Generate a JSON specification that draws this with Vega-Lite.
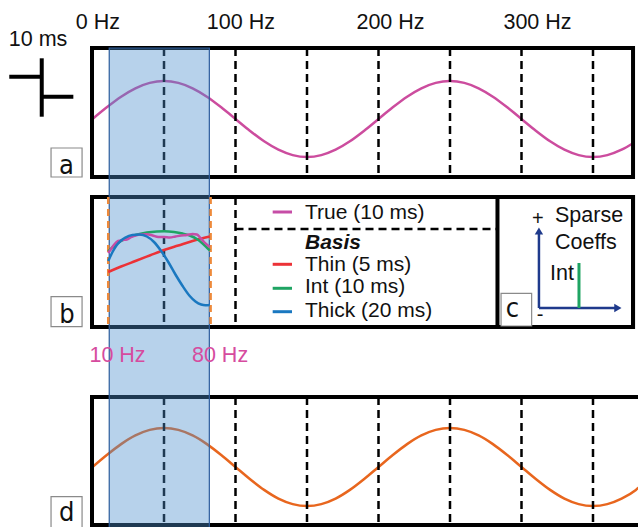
{
  "$schema": "https://vega.github.io/schema/vega-lite/v6.json",
  "width": 638,
  "height": 527,
  "padding": 0,
  "autosize": {"type": "none"},
  "background": "white",
  "config": {"view": {"stroke": null}, "text": {"font": "Liberation Sans"}},
  "datasets": {
    "waves": [
      {"series": "a", "x": 0, "y": 119}, {"series": "a", "x": 10, "y": 107.3}, {"series": "a", "x": 20, "y": 96.7}, {"series": "a", "x": 30, "y": 88.3}, {"series": "a", "x": 40, "y": 82.9}, {"series": "a", "x": 50, "y": 81}, {"series": "a", "x": 60, "y": 82.9}, {"series": "a", "x": 70, "y": 88.3}, {"series": "a", "x": 80, "y": 96.7}, {"series": "a", "x": 90, "y": 107.3}, {"series": "a", "x": 100, "y": 119}, {"series": "a", "x": 110, "y": 130.7}, {"series": "a", "x": 120, "y": 141.3}, {"series": "a", "x": 130, "y": 149.7}, {"series": "a", "x": 140, "y": 155.1}, {"series": "a", "x": 150, "y": 157}, {"series": "a", "x": 160, "y": 155.1}, {"series": "a", "x": 170, "y": 149.7}, {"series": "a", "x": 180, "y": 141.3}, {"series": "a", "x": 190, "y": 130.7}, {"series": "a", "x": 200, "y": 119}, {"series": "a", "x": 210, "y": 107.3}, {"series": "a", "x": 220, "y": 96.7}, {"series": "a", "x": 230, "y": 88.3}, {"series": "a", "x": 240, "y": 82.9}, {"series": "a", "x": 250, "y": 81}, {"series": "a", "x": 260, "y": 82.9}, {"series": "a", "x": 270, "y": 88.3}, {"series": "a", "x": 280, "y": 96.7}, {"series": "a", "x": 290, "y": 107.3}, {"series": "a", "x": 300, "y": 119}, {"series": "a", "x": 310, "y": 130.7}, {"series": "a", "x": 320, "y": 141.3}, {"series": "a", "x": 330, "y": 149.7}, {"series": "a", "x": 340, "y": 155.1}, {"series": "a", "x": 350, "y": 157}, {"series": "a", "x": 360, "y": 155.1}, {"series": "a", "x": 370, "y": 149.7}, {"series": "a", "x": 378, "y": 143.2},
      {"series": "d", "x": 0, "y": 467}, {"series": "d", "x": 10, "y": 455}, {"series": "d", "x": 20, "y": 444.1}, {"series": "d", "x": 30, "y": 435.4}, {"series": "d", "x": 40, "y": 429.9}, {"series": "d", "x": 50, "y": 428}, {"series": "d", "x": 60, "y": 429.9}, {"series": "d", "x": 70, "y": 435.4}, {"series": "d", "x": 80, "y": 444.1}, {"series": "d", "x": 90, "y": 455}, {"series": "d", "x": 100, "y": 467}, {"series": "d", "x": 110, "y": 479}, {"series": "d", "x": 120, "y": 489.9}, {"series": "d", "x": 130, "y": 498.6}, {"series": "d", "x": 140, "y": 504.1}, {"series": "d", "x": 150, "y": 506}, {"series": "d", "x": 160, "y": 504.1}, {"series": "d", "x": 170, "y": 498.6}, {"series": "d", "x": 180, "y": 489.9}, {"series": "d", "x": 190, "y": 479}, {"series": "d", "x": 200, "y": 467}, {"series": "d", "x": 210, "y": 455}, {"series": "d", "x": 220, "y": 444.1}, {"series": "d", "x": 230, "y": 435.4}, {"series": "d", "x": 240, "y": 429.9}, {"series": "d", "x": 250, "y": 428}, {"series": "d", "x": 260, "y": 429.9}, {"series": "d", "x": 270, "y": 435.4}, {"series": "d", "x": 280, "y": 444.1}, {"series": "d", "x": 290, "y": 455}, {"series": "d", "x": 300, "y": 467}, {"series": "d", "x": 310, "y": 479}, {"series": "d", "x": 320, "y": 489.9}, {"series": "d", "x": 330, "y": 498.6}, {"series": "d", "x": 340, "y": 504.1}, {"series": "d", "x": 350, "y": 506}, {"series": "d", "x": 360, "y": 504.1}, {"series": "d", "x": 370, "y": 498.6}, {"series": "d", "x": 380, "y": 489.9}, {"series": "d", "x": 384, "y": 485}
    ],
    "basis": [
      {"series": "Thin", "x": 11, "y": 272}, {"series": "Thin", "x": 20, "y": 266.5}, {"series": "Thin", "x": 30, "y": 261}, {"series": "Thin", "x": 40, "y": 255.5}, {"series": "Thin", "x": 50, "y": 250}, {"series": "Thin", "x": 60, "y": 245.5}, {"series": "Thin", "x": 70, "y": 241}, {"series": "Thin", "x": 82, "y": 236.5},
      {"series": "Int", "x": 11, "y": 251.5}, {"series": "Int", "x": 15, "y": 246}, {"series": "Int", "x": 20, "y": 241}, {"series": "Int", "x": 25, "y": 237.5}, {"series": "Int", "x": 30, "y": 235}, {"series": "Int", "x": 38, "y": 232.5}, {"series": "Int", "x": 45, "y": 231.5}, {"series": "Int", "x": 50, "y": 231.3}, {"series": "Int", "x": 57, "y": 232}, {"series": "Int", "x": 63, "y": 233.5}, {"series": "Int", "x": 68, "y": 235.5}, {"series": "Int", "x": 73, "y": 239}, {"series": "Int", "x": 77, "y": 243.5}, {"series": "Int", "x": 82, "y": 250.5},
      {"series": "True", "x": 11, "y": 253}, {"series": "True", "x": 13, "y": 249}, {"series": "True", "x": 15.5, "y": 244}, {"series": "True", "x": 18, "y": 241}, {"series": "True", "x": 21, "y": 240}, {"series": "True", "x": 24, "y": 239.5}, {"series": "True", "x": 27, "y": 237}, {"series": "True", "x": 30, "y": 235.5}, {"series": "True", "x": 34, "y": 234.5}, {"series": "True", "x": 38, "y": 234.3}, {"series": "True", "x": 42, "y": 235.5}, {"series": "True", "x": 46, "y": 237}, {"series": "True", "x": 50, "y": 237}, {"series": "True", "x": 54, "y": 237.5}, {"series": "True", "x": 58, "y": 236.5}, {"series": "True", "x": 62, "y": 235.5}, {"series": "True", "x": 66, "y": 235}, {"series": "True", "x": 70, "y": 234}, {"series": "True", "x": 73, "y": 234.5}, {"series": "True", "x": 75.5, "y": 238}, {"series": "True", "x": 78, "y": 242}, {"series": "True", "x": 82, "y": 247},
      {"series": "Thick", "x": 11, "y": 261}, {"series": "Thick", "x": 14, "y": 252}, {"series": "Thick", "x": 17, "y": 245}, {"series": "Thick", "x": 20, "y": 240.5}, {"series": "Thick", "x": 23, "y": 237.5}, {"series": "Thick", "x": 28, "y": 235}, {"series": "Thick", "x": 33, "y": 234.5}, {"series": "Thick", "x": 38, "y": 236.5}, {"series": "Thick", "x": 43, "y": 242}, {"series": "Thick", "x": 48, "y": 251}, {"series": "Thick", "x": 53, "y": 262}, {"series": "Thick", "x": 58, "y": 274.5}, {"series": "Thick", "x": 63, "y": 286}, {"series": "Thick", "x": 68, "y": 296}, {"series": "Thick", "x": 72, "y": 301.5}, {"series": "Thick", "x": 76, "y": 304.5}, {"series": "Thick", "x": 79, "y": 305.2}, {"series": "Thick", "x": 82, "y": 305}
    ],
    "vlines": [
      {"x": 50, "y": 48, "y2": 177}, {"x": 100, "y": 48, "y2": 177}, {"x": 150, "y": 48, "y2": 177}, {"x": 200, "y": 48, "y2": 177}, {"x": 250, "y": 48, "y2": 177}, {"x": 300, "y": 48, "y2": 177}, {"x": 350, "y": 48, "y2": 177},
      {"x": 50, "y": 197, "y2": 327}, {"x": 100, "y": 197, "y2": 327},
      {"x": 50, "y": 397, "y2": 525}, {"x": 100, "y": 397, "y2": 525}, {"x": 150, "y": 397, "y2": 525}, {"x": 200, "y": 397, "y2": 525}, {"x": 250, "y": 397, "y2": 525}, {"x": 300, "y": 397, "y2": 525}, {"x": 350, "y": 397, "y2": 525}
    ],
    "hlines": [{"x": 100, "x2": 283.2, "y": 229}],
    "edges": [{"x": 11, "y": 197, "y2": 327}, {"x": 82.6, "y": 197, "y2": 327}],
    "frames": [
      {"panel": "a", "x": -0.35, "x2": 378, "y": 48, "y2": 177},
      {"panel": "b", "x": -0.35, "x2": 378, "y": 197, "y2": 327},
      {"panel": "c", "x": 283.2, "x2": 378, "y": 197, "y2": 327},
      {"panel": "d", "x": -0.35, "x2": 390, "y": 397, "y2": 525}
    ],
    "band": [{"x": 11.7, "x2": 81.7, "y": 48, "y2": 540}],
    "legendLines": [
      {"series": "True", "x": 126, "x2": 139.5, "y": 212},
      {"series": "Thin", "x": 126, "x2": 139.5, "y": 264.3},
      {"series": "Int", "x": 126, "x2": 139.5, "y": 288.3},
      {"series": "Thick", "x": 126, "x2": 139.5, "y": 311.7}
    ],
    "legendText": [
      {"label": "True (10 ms)", "x": 148.6, "y": 213.3},
      {"label": "Thin (5 ms)", "x": 148.6, "y": 264.6},
      {"label": "Int (10 ms)", "x": 148.6, "y": 287},
      {"label": "Thick (20 ms)", "x": 148.6, "y": 310.8}
    ],
    "basisTitle": [{"label": "Basis", "x": 148.6, "y": 242.6}],
    "topLabels": [
      {"label": "0 Hz", "x": 3.8, "y": 22.5},
      {"label": "100 Hz", "x": 103.8, "y": 22.5},
      {"label": "200 Hz", "x": 208.4, "y": 22.5},
      {"label": "300 Hz", "x": 311.2, "y": 22.5},
      {"label": "10 ms", "x": -38.1, "y": 39.5}
    ],
    "bandLabels": [
      {"label": "10 Hz", "x": 17.5, "y": 355.8},
      {"label": "80 Hz", "x": 89.2, "y": 355.8}
    ],
    "cText": [
      {"label": "Sparse", "x": 323.4, "y": 215.8},
      {"label": "Coeffs", "x": 323.4, "y": 242.5},
      {"label": "Int", "x": 319.9, "y": 273.5}
    ],
    "cSigns": [
      {"label": "+", "x": 311.5, "y": 218.5},
      {"label": "-", "x": 313.0, "y": 315}
    ],
    "scaleBar": [
      {"x": -35.5, "x2": -35.5, "y": 58.3, "y2": 116.7},
      {"x": -58.2, "x2": -35.5, "y": 76.7, "y2": 76.7},
      {"x": -35.5, "x2": -13.4, "y": 96.7, "y2": 96.7}
    ],
    "cAxes": [
      {"x": 312.2, "x2": 312.2, "y": 231, "y2": 308},
      {"x": 312.2, "x2": 367.4, "y": 308, "y2": 308}
    ],
    "cArrowUp": [{"x": 312.2, "y": 231}],
    "cArrowRight": [{"x": 367.4, "y": 308}],
    "cBar": [{"x": 340.2, "y": 263, "y2": 308}],
    "letterBoxes": [
      {"panel": "a", "x": -29, "x2": -7.3, "y": 148, "y2": 177},
      {"panel": "b", "x": -29, "x2": -7.3, "y": 296.7, "y2": 326.7},
      {"panel": "c", "x": 285.7, "x2": 307.1, "y": 293.3, "y2": 326},
      {"panel": "d", "x": -29, "x2": -7.3, "y": 496.7, "y2": 535}
    ],
    "letters": [
      {"label": "a", "x": -18.3, "y": 173.5},
      {"label": "b", "x": -17.9, "y": 323},
      {"label": "c", "x": 293.6, "y": 316.7},
      {"label": "d", "x": -18.1, "y": 520.5}
    ]
  },
  "layer": [
    {
      "data": {"name": "waves"},
      "mark": {"type": "line", "strokeWidth": 2.5, "interpolate": "monotone"},
      "encoding": {
        "x": {"field": "x", "type": "quantitative", "scale": {"domain": [-64.69, 381.47], "nice": false, "zero": false}, "axis": null},
        "y": {"field": "y", "type": "quantitative", "scale": {"domain": [0, 527], "reverse": true, "nice": false, "zero": false}, "axis": null},
        "color": {"field": "series", "type": "nominal", "scale": {"domain": ["a", "d", "True", "Thin", "Int", "Thick"], "range": ["#CC4C9E", "#E8661E", "#C64DA6", "#EC3237", "#1FA463", "#1A78C0"]}, "legend": null}
      }
    },
    {
      "data": {"name": "vlines"},
      "mark": {"type": "rule", "color": "black", "strokeWidth": 2.5, "strokeDash": [8, 5]},
      "encoding": {
        "x": {"field": "x", "type": "quantitative", "scale": {"domain": [-64.69, 381.47], "nice": false, "zero": false}, "axis": null},
        "y": {"field": "y", "type": "quantitative", "scale": {"domain": [0, 527], "reverse": true, "nice": false, "zero": false}, "axis": null},
        "y2": {"field": "y2"}
      }
    },
    {
      "data": {"name": "hlines"},
      "mark": {"type": "rule", "color": "black", "strokeWidth": 2.5, "strokeDash": [8, 5]},
      "encoding": {
        "x": {"field": "x", "type": "quantitative", "scale": {"domain": [-64.69, 381.47], "nice": false, "zero": false}, "axis": null},
        "x2": {"field": "x2"},
        "y": {"field": "y", "type": "quantitative", "scale": {"domain": [0, 527], "reverse": true, "nice": false, "zero": false}, "axis": null}
      }
    },
    {
      "data": {"name": "frames"},
      "mark": {"type": "rect", "filled": false, "color": "black", "strokeWidth": 4},
      "encoding": {
        "x": {"field": "x", "type": "quantitative", "scale": {"domain": [-64.69, 381.47], "nice": false, "zero": false}, "axis": null},
        "x2": {"field": "x2"},
        "y": {"field": "y", "type": "quantitative", "scale": {"domain": [0, 527], "reverse": true, "nice": false, "zero": false}, "axis": null},
        "y2": {"field": "y2"}
      }
    },
    {
      "data": {"name": "band"},
      "mark": {"type": "rect", "fill": "#4B8ECD", "fillOpacity": 0.4, "stroke": "#2C5C9C", "strokeWidth": 1.2},
      "encoding": {
        "x": {"field": "x", "type": "quantitative", "scale": {"domain": [-64.69, 381.47], "nice": false, "zero": false}, "axis": null},
        "x2": {"field": "x2"},
        "y": {"field": "y", "type": "quantitative", "scale": {"domain": [0, 527], "reverse": true, "nice": false, "zero": false}, "axis": null},
        "y2": {"field": "y2"}
      }
    },
    {
      "data": {"name": "edges"},
      "mark": {"type": "rule", "color": "#EE8A3A", "strokeWidth": 2.5, "strokeDash": [7, 5]},
      "encoding": {
        "x": {"field": "x", "type": "quantitative", "scale": {"domain": [-64.69, 381.47], "nice": false, "zero": false}, "axis": null},
        "y": {"field": "y", "type": "quantitative", "scale": {"domain": [0, 527], "reverse": true, "nice": false, "zero": false}, "axis": null},
        "y2": {"field": "y2"}
      }
    },
    {
      "data": {"name": "basis"},
      "mark": {"type": "line", "strokeWidth": 2.5, "interpolate": "monotone"},
      "encoding": {
        "x": {"field": "x", "type": "quantitative", "scale": {"domain": [-64.69, 381.47], "nice": false, "zero": false}, "axis": null},
        "y": {"field": "y", "type": "quantitative", "scale": {"domain": [0, 527], "reverse": true, "nice": false, "zero": false}, "axis": null},
        "color": {"field": "series", "type": "nominal", "scale": {"domain": ["a", "d", "True", "Thin", "Int", "Thick"], "range": ["#CC4C9E", "#E8661E", "#C64DA6", "#EC3237", "#1FA463", "#1A78C0"]}, "legend": null}
      }
    },
    {
      "data": {"name": "legendLines"},
      "mark": {"type": "rule", "strokeWidth": 3},
      "encoding": {
        "x": {"field": "x", "type": "quantitative", "scale": {"domain": [-64.69, 381.47], "nice": false, "zero": false}, "axis": null},
        "x2": {"field": "x2"},
        "y": {"field": "y", "type": "quantitative", "scale": {"domain": [0, 527], "reverse": true, "nice": false, "zero": false}, "axis": null},
        "color": {"field": "series", "type": "nominal", "scale": {"domain": ["a", "d", "True", "Thin", "Int", "Thick"], "range": ["#CC4C9E", "#E8661E", "#C64DA6", "#EC3237", "#1FA463", "#1A78C0"]}, "legend": null}
      }
    },
    {
      "data": {"name": "legendText"},
      "mark": {"type": "text", "align": "left", "baseline": "middle", "fontSize": 21, "color": "#111"},
      "encoding": {
        "x": {"field": "x", "type": "quantitative", "scale": {"domain": [-64.69, 381.47], "nice": false, "zero": false}, "axis": null},
        "y": {"field": "y", "type": "quantitative", "scale": {"domain": [0, 527], "reverse": true, "nice": false, "zero": false}, "axis": null},
        "text": {"field": "label"}
      }
    },
    {
      "data": {"name": "basisTitle"},
      "mark": {"type": "text", "align": "left", "baseline": "middle", "fontSize": 21, "fontWeight": "bold", "fontStyle": "italic", "color": "#111"},
      "encoding": {
        "x": {"field": "x", "type": "quantitative", "scale": {"domain": [-64.69, 381.47], "nice": false, "zero": false}, "axis": null},
        "y": {"field": "y", "type": "quantitative", "scale": {"domain": [0, 527], "reverse": true, "nice": false, "zero": false}, "axis": null},
        "text": {"field": "label"}
      }
    },
    {
      "data": {"name": "topLabels"},
      "mark": {"type": "text", "align": "center", "baseline": "middle", "fontSize": 21.5, "color": "#111"},
      "encoding": {
        "x": {"field": "x", "type": "quantitative", "scale": {"domain": [-64.69, 381.47], "nice": false, "zero": false}, "axis": null},
        "y": {"field": "y", "type": "quantitative", "scale": {"domain": [0, 527], "reverse": true, "nice": false, "zero": false}, "axis": null},
        "text": {"field": "label"}
      }
    },
    {
      "data": {"name": "bandLabels"},
      "mark": {"type": "text", "align": "center", "baseline": "middle", "fontSize": 21.5, "color": "#D64B9E"},
      "encoding": {
        "x": {"field": "x", "type": "quantitative", "scale": {"domain": [-64.69, 381.47], "nice": false, "zero": false}, "axis": null},
        "y": {"field": "y", "type": "quantitative", "scale": {"domain": [0, 527], "reverse": true, "nice": false, "zero": false}, "axis": null},
        "text": {"field": "label"}
      }
    },
    {
      "data": {"name": "cText"},
      "mark": {"type": "text", "align": "left", "baseline": "middle", "fontSize": 21.5, "color": "#111"},
      "encoding": {
        "x": {"field": "x", "type": "quantitative", "scale": {"domain": [-64.69, 381.47], "nice": false, "zero": false}, "axis": null},
        "y": {"field": "y", "type": "quantitative", "scale": {"domain": [0, 527], "reverse": true, "nice": false, "zero": false}, "axis": null},
        "text": {"field": "label"}
      }
    },
    {
      "data": {"name": "cSigns"},
      "mark": {"type": "text", "align": "center", "baseline": "middle", "fontSize": 20, "color": "#111"},
      "encoding": {
        "x": {"field": "x", "type": "quantitative", "scale": {"domain": [-64.69, 381.47], "nice": false, "zero": false}, "axis": null},
        "y": {"field": "y", "type": "quantitative", "scale": {"domain": [0, 527], "reverse": true, "nice": false, "zero": false}, "axis": null},
        "text": {"field": "label"}
      }
    },
    {
      "data": {"name": "scaleBar"},
      "mark": {"type": "rule", "color": "black", "strokeWidth": 4},
      "encoding": {
        "x": {"field": "x", "type": "quantitative", "scale": {"domain": [-64.69, 381.47], "nice": false, "zero": false}, "axis": null},
        "x2": {"field": "x2"},
        "y": {"field": "y", "type": "quantitative", "scale": {"domain": [0, 527], "reverse": true, "nice": false, "zero": false}, "axis": null},
        "y2": {"field": "y2"}
      }
    },
    {
      "data": {"name": "cAxes"},
      "mark": {"type": "rule", "color": "#1F3A8C", "strokeWidth": 2.5},
      "encoding": {
        "x": {"field": "x", "type": "quantitative", "scale": {"domain": [-64.69, 381.47], "nice": false, "zero": false}, "axis": null},
        "x2": {"field": "x2"},
        "y": {"field": "y", "type": "quantitative", "scale": {"domain": [0, 527], "reverse": true, "nice": false, "zero": false}, "axis": null},
        "y2": {"field": "y2"}
      }
    },
    {
      "data": {"name": "cArrowUp"},
      "mark": {"type": "point", "shape": "triangle-up", "filled": true, "color": "#1F3A8C", "size": 70, "opacity": 1},
      "encoding": {
        "x": {"field": "x", "type": "quantitative", "scale": {"domain": [-64.69, 381.47], "nice": false, "zero": false}, "axis": null},
        "y": {"field": "y", "type": "quantitative", "scale": {"domain": [0, 527], "reverse": true, "nice": false, "zero": false}, "axis": null}
      }
    },
    {
      "data": {"name": "cArrowRight"},
      "mark": {"type": "point", "shape": "triangle-right", "filled": true, "color": "#1F3A8C", "size": 70, "opacity": 1},
      "encoding": {
        "x": {"field": "x", "type": "quantitative", "scale": {"domain": [-64.69, 381.47], "nice": false, "zero": false}, "axis": null},
        "y": {"field": "y", "type": "quantitative", "scale": {"domain": [0, 527], "reverse": true, "nice": false, "zero": false}, "axis": null}
      }
    },
    {
      "data": {"name": "cBar"},
      "mark": {"type": "rule", "color": "#1FA463", "strokeWidth": 3},
      "encoding": {
        "x": {"field": "x", "type": "quantitative", "scale": {"domain": [-64.69, 381.47], "nice": false, "zero": false}, "axis": null},
        "y": {"field": "y", "type": "quantitative", "scale": {"domain": [0, 527], "reverse": true, "nice": false, "zero": false}, "axis": null},
        "y2": {"field": "y2"}
      }
    },
    {
      "data": {"name": "letterBoxes"},
      "mark": {"type": "rect", "fill": "white", "stroke": "#8A8A8A", "strokeWidth": 1.2},
      "encoding": {
        "x": {"field": "x", "type": "quantitative", "scale": {"domain": [-64.69, 381.47], "nice": false, "zero": false}, "axis": null},
        "x2": {"field": "x2"},
        "y": {"field": "y", "type": "quantitative", "scale": {"domain": [0, 527], "reverse": true, "nice": false, "zero": false}, "axis": null},
        "y2": {"field": "y2"}
      }
    },
    {
      "data": {"name": "letters"},
      "mark": {"type": "text", "align": "center", "baseline": "alphabetic", "fontSize": 27, "font": "Liberation Sans Narrow, DejaVu Sans Condensed, sans-serif", "color": "#111"},
      "encoding": {
        "x": {"field": "x", "type": "quantitative", "scale": {"domain": [-64.69, 381.47], "nice": false, "zero": false}, "axis": null},
        "y": {"field": "y", "type": "quantitative", "scale": {"domain": [0, 527], "reverse": true, "nice": false, "zero": false}, "axis": null},
        "text": {"field": "label"}
      }
    }
  ]
}
